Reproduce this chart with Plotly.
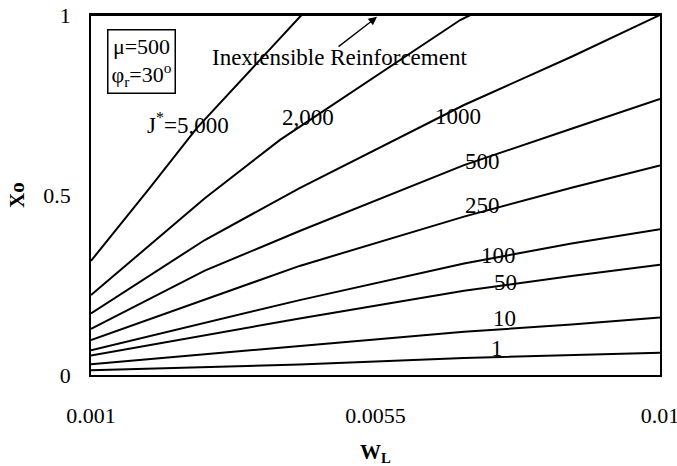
import plotly.graph_objects as go

# ---- data ----
x_common = [0.001, 0.0028, 0.0043, 0.0069, 0.0086, 0.01]
j1 = [0.013, 0.022, 0.029, 0.047, 0.055, 0.062]
j10 = [0.030, 0.058, 0.081, 0.120, 0.140, 0.160]
j50 = [0.054, 0.110, 0.157, 0.234, 0.275, 0.306]
j100 = [0.069, 0.145, 0.208, 0.310, 0.365, 0.405]
j250 = [0.097, 0.210, 0.303, 0.440, 0.520, 0.582]
j500 = [0.128, 0.290, 0.400, 0.583, 0.684, 0.767]
j1000 = [0.171, 0.375, 0.519, 0.750, 0.884, 1.000]

x_2000 = [0.001, 0.0028, 0.00399, 0.00478, 0.00684, 0.0070, 0.01]
j2000 = [0.222, 0.491, 0.653, 0.745, 0.986, 1.000, 1.000]

x_5000 = [0.001, 0.00193, 0.00267, 0.00364, 0.00433, 0.01]
j5000 = [0.317, 0.520, 0.685, 0.869, 1.000, 1.000]

x_inext = [0.001, 0.01]
inext = [1.0, 1.0]

x_ticks = [0.001, 0.0055, 0.01]
x_tick_labels = ["0.001", "0.0055", "0.01"]
y_ticks = [0, 0.5, 1]
y_tick_labels = ["0", "0.5", "1"]

# curve labels: (text, x, y)
curve_labels = [
    ("J<sup>*</sup>=5,000", 0.002534, 0.700),
    ("2,000", 0.004432, 0.714),
    ("1000", 0.006805, 0.719),
    ("500", 0.007185, 0.592),
    ("250", 0.007185, 0.472),
    ("100", 0.007453, 0.333),
    ("50", 0.007564, 0.256),
    ("10", 0.007548, 0.158),
    ("1", 0.007422, 0.075),
]

FONT = "Liberation Serif, Times New Roman, serif"
LABEL_SIZE = 23

fig = go.Figure()
series = [
    (x_common, j1, "1"), (x_common, j10, "10"), (x_common, j50, "50"),
    (x_common, j100, "100"), (x_common, j250, "250"), (x_common, j500, "500"),
    (x_common, j1000, "1000"), (x_2000, j2000, "2000"), (x_5000, j5000, "5000"),
    (x_inext, inext, "Inextensible"),
]
for xs, ys, name in series:
    fig.add_trace(go.Scatter(x=xs, y=ys, mode="lines", name=name,
                             line=dict(color="black", width=2),
                             showlegend=False, hoverinfo="skip"))

annotations = []
for text, xv, yv in curve_labels:
    annotations.append(dict(x=xv, y=yv, xref="x", yref="y", text=text, showarrow=False,
                            font=dict(family=FONT, size=LABEL_SIZE, color="black"),
                            xanchor="center", yanchor="middle"))

annotations.append(dict(x=0.004938, y=0.883, xref="x", yref="y",
                        text="Inextensible Reinforcement", showarrow=False,
                        font=dict(family=FONT, size=LABEL_SIZE, color="black"),
                        xanchor="center", yanchor="middle"))
annotations.append(dict(x=0.005524, y=0.995, xref="x", yref="y", text="",
                        showarrow=True, ax=-40, ay=31, axref="pixel", ayref="pixel",
                        arrowhead=2, arrowsize=1.3, arrowwidth=1.3, arrowcolor="black"))
annotations.append(dict(x=0.0896, y=0.872, xref="paper", yref="paper",
                        text="\u03bc=500<br>\u03c6<sub>r</sub>=30<sup>o</sup>",
                        showarrow=False, align="center",
                        font=dict(family=FONT, size=22, color="black"),
                        bordercolor="black", borderwidth=1.5, borderpad=3,
                        xanchor="center", yanchor="middle"))
# y-axis title placed as text beside the tick labels
annotations.append(dict(x=-0.130, y=0.5, xref="paper", yref="paper",
                        text="<b>Xo</b>", textangle=-90, showarrow=False,
                        font=dict(family=FONT, size=21, color="black"),
                        xanchor="center", yanchor="middle"))

fig.update_layout(
    width=677, height=466,
    margin=dict(l=91, r=17, t=15, b=91),
    paper_bgcolor="white", plot_bgcolor="white",
    font=dict(family=FONT, size=22, color="black"),
    annotations=annotations,
    xaxis=dict(range=[0.001, 0.01], tickvals=x_ticks, ticktext=x_tick_labels,
               showgrid=False, zeroline=False, showline=True, mirror=True,
               linecolor="black", linewidth=1.5, ticks="", ticklabelstandoff=20,
               ticklabeloverflow="allow", automargin=False,
               tickfont=dict(family=FONT, size=22),
               title=dict(text="<b>W<sub>L</sub></b>", standoff=24,
                          font=dict(family=FONT, size=21))),
    yaxis=dict(range=[0, 1], tickvals=y_ticks, ticktext=y_tick_labels,
               showgrid=False, zeroline=False, showline=True, mirror=True,
               linecolor="black", linewidth=1.5, ticks="", ticklabelstandoff=14,
               ticklabeloverflow="allow", automargin=False,
               tickfont=dict(family=FONT, size=22)),
)

fig.write_html("out.html", config={"displayModeBar": False},
               post_script="document.body.style.margin='0';")
